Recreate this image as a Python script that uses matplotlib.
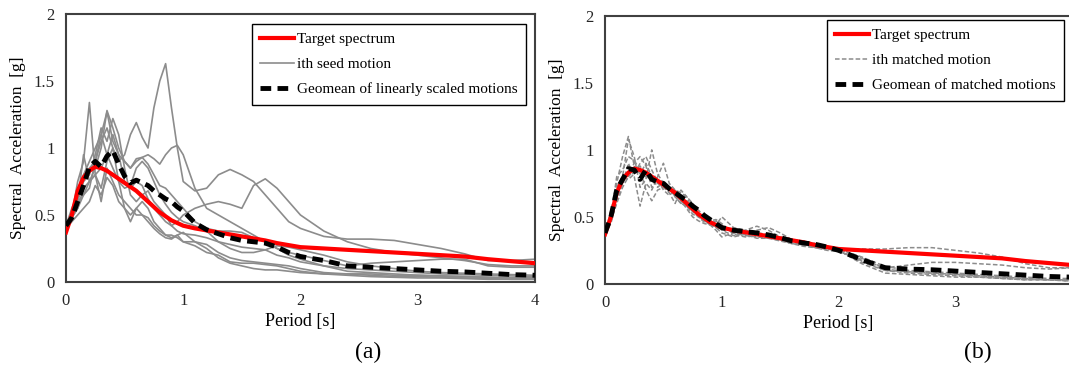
import matplotlib
matplotlib.use("Agg")
import matplotlib.pyplot as plt

plt.rcParams['font.family'] = ['Liberation Serif', 'DejaVu Serif']

# periods [s]
T = [0, .05, .1, .15, .2, .25, .3, .35, .4, .45, .5, .55, .6, .65, .7, .75, .8, .85, .9, .95,
     1.0, 1.1, 1.2, 1.3, 1.4, 1.5, 1.6, 1.7, 1.8, 1.9, 2.0, 2.2, 2.4, 2.6, 2.8, 3.0, 3.2, 3.4, 3.6, 3.8, 4.0]

target = [0.37, 0.5, 0.68, 0.78, 0.83, 0.86, 0.85, 0.83, 0.8, 0.77, 0.74, 0.71, 0.68, 0.64, 0.6, 0.56, 0.52, 0.49, 0.46, 0.44,
          0.42, 0.40, 0.385, 0.37, 0.355, 0.34, 0.325, 0.31, 0.29, 0.275, 0.26, 0.25, 0.24, 0.23, 0.22, 0.21, 0.20, 0.19, 0.17, 0.155, 0.14]

# (a) seed motions
seed_a = [0.4, 0.5, 0.65, 0.8, 0.85, 0.9, 1.05, 1.15, 1.0, 0.9, 0.95, 1.1, 1.19, 1.08, 1.0, 1.3, 1.5, 1.63, 1.3, 1.0,
          0.75, 0.68, 0.7, 0.8, 0.84, 0.8, 0.75, 0.65, 0.55, 0.45, 0.4, 0.34, 0.32, 0.32, 0.31, 0.28, 0.25, 0.21, 0.16, 0.16, 0.17]
seed_b = [0.4, 0.5, 0.6, 0.65, 0.7, 0.9, 1.1, 1.27, 1.05, 0.95, 0.9, 0.85, 0.9, 0.93, 0.95, 0.92, 0.88, 0.95, 1.0, 1.02,
          0.95, 0.7, 0.55, 0.5, 0.45, 0.4, 0.35, 0.3, 0.25, 0.2, 0.17, 0.12, 0.08, 0.07, 0.06, 0.05, 0.045, 0.04, 0.035, 0.03, 0.03]
seed_c = [0.4, 0.48, 0.55, 0.65, 0.75, 0.8, 0.85, 0.95, 1.1, 0.95, 0.75, 0.7, 0.75, 0.72, 0.62, 0.55, 0.5, 0.45, 0.42, 0.45,
          0.5, 0.55, 0.58, 0.6, 0.58, 0.55, 0.72, 0.77, 0.7, 0.6, 0.5, 0.38, 0.3, 0.25, 0.22, 0.2, 0.18, 0.16, 0.13, 0.12, 0.12]
seed_e = [0.4, 0.5, 0.75, 0.9, 1.34, 0.8, 0.7, 0.9, 1.0, 0.75, 0.55, 0.45, 0.55, 0.6, 0.55, 0.45, 0.4, 0.35, 0.33, 0.35,
          0.3, 0.27, 0.22, 0.2, 0.15, 0.14, 0.14, 0.13, 0.12, 0.1, 0.08, 0.06, 0.05, 0.04, 0.035, 0.03, 0.03, 0.025, 0.02, 0.02, 0.02]
seed_f = [0.42, 0.52, 0.6, 0.75, 0.8, 0.95, 1.15, 1.05, 1.22, 1.1, 0.85, 0.65, 0.6, 0.65, 0.68, 0.6, 0.55, 0.5, 0.42, 0.38,
          0.36, 0.35, 0.33, 0.3, 0.28, 0.26, 0.25, 0.24, 0.2, 0.18, 0.15, 0.12, 0.1, 0.09, 0.08, 0.07, 0.06, 0.055, 0.05, 0.045, 0.04]
seed_g = [0.38, 0.48, 0.55, 0.7, 0.75, 0.85, 1.0, 1.28, 1.15, 1.0, 0.9, 0.85, 0.92, 0.93, 0.88, 0.8, 0.72, 0.7, 0.65, 0.6,
          0.55, 0.45, 0.4, 0.38, 0.38, 0.37, 0.33, 0.3, 0.25, 0.22, 0.2, 0.16, 0.12, 0.14, 0.15, 0.16, 0.17, 0.17, 0.12, 0.11, 0.11]
seed_h = [0.4, 0.45, 0.5, 0.55, 0.6, 0.72, 0.65, 0.78, 0.72, 0.6, 0.55, 0.5, 0.55, 0.5, 0.45, 0.4, 0.36, 0.33, 0.32, 0.35,
          0.37, 0.3, 0.25, 0.18, 0.14, 0.12, 0.1, 0.09, 0.09, 0.08, 0.07, 0.06, 0.06, 0.05, 0.04, 0.04, 0.035, 0.03, 0.025, 0.02, 0.02]
seed_i = [0.42, 0.55, 0.65, 0.8, 0.9, 1.0, 1.1, 0.95, 0.85, 0.75, 0.7, 0.72, 0.85, 0.9, 0.85, 0.75, 0.65, 0.58, 0.52, 0.48,
          0.45, 0.42, 0.38, 0.3, 0.25, 0.22, 0.22, 0.24, 0.27, 0.26, 0.24, 0.2, 0.15, 0.12, 0.1, 0.08, 0.07, 0.065, 0.06, 0.055, 0.05]
seed_j = [0.4, 0.5, 0.6, 0.95, 0.75, 0.8, 0.6, 0.85, 0.75, 0.65, 0.6, 0.55, 0.5, 0.5, 0.48, 0.42, 0.38, 0.35, 0.35, 0.33,
          0.3, 0.3, 0.28, 0.22, 0.18, 0.16, 0.15, 0.14, 0.13, 0.12, 0.1, 0.07, 0.06, 0.06, 0.05, 0.05, 0.045, 0.04, 0.035, 0.03, 0.03]
seeds = [seed_a, seed_b, seed_c, seed_e, seed_f, seed_g, seed_h, seed_i, seed_j]

geo_scaled = [0.42, 0.48, 0.6, 0.72, 0.86, 0.9, 0.86, 0.94, 0.98, 0.88, 0.79, 0.74, 0.76, 0.74, 0.72, 0.68, 0.65, 0.62, 0.6, 0.56,
              0.53, 0.44, 0.39, 0.36, 0.33, 0.31, 0.3, 0.29, 0.26, 0.22, 0.19, 0.16, 0.12, 0.11, 0.10, 0.09, 0.08, 0.075, 0.065, 0.055, 0.05]

# (b) matched motions
m1 = [0.37, 0.52, 0.75, 0.95, 1.1, 0.88, 0.82, 0.9, 0.8, 0.72, 0.76, 0.7, 0.66, 0.62, 0.58, 0.54, 0.5, 0.46, 0.45, 0.47,
      0.43, 0.38, 0.37, 0.4, 0.42, 0.38, 0.33, 0.3, 0.28, 0.26, 0.25, 0.26, 0.26, 0.27, 0.27, 0.25, 0.23, 0.2, 0.15, 0.12, 0.12]
m2 = [0.37, 0.48, 0.65, 0.8, 1.08, 0.95, 0.72, 0.78, 1.0, 0.82, 0.75, 0.72, 0.65, 0.6, 0.62, 0.58, 0.5, 0.47, 0.44, 0.45,
      0.4, 0.36, 0.38, 0.38, 0.37, 0.34, 0.32, 0.3, 0.27, 0.25, 0.24, 0.18, 0.12, 0.14, 0.16, 0.16, 0.15, 0.14, 0.12, 0.11, 0.12]
m3 = [0.37, 0.45, 0.62, 0.75, 0.9, 0.8, 0.58, 0.75, 0.7, 0.8, 0.9, 0.75, 0.7, 0.68, 0.65, 0.6, 0.55, 0.5, 0.47, 0.48,
      0.45, 0.37, 0.35, 0.36, 0.36, 0.33, 0.31, 0.29, 0.27, 0.26, 0.25, 0.16, 0.1, 0.09, 0.08, 0.07, 0.06, 0.05, 0.04, 0.03, 0.03]
m4 = [0.37, 0.5, 0.8, 0.85, 0.95, 0.92, 0.85, 0.7, 0.62, 0.7, 0.72, 0.68, 0.6, 0.7, 0.65, 0.55, 0.5, 0.48, 0.45, 0.42,
      0.38, 0.35, 0.37, 0.34, 0.34, 0.32, 0.3, 0.28, 0.27, 0.26, 0.25, 0.15, 0.08, 0.07, 0.06, 0.05, 0.05, 0.04, 0.03, 0.03, 0.02]
m5 = [0.37, 0.55, 0.7, 0.75, 0.82, 0.9, 0.95, 0.88, 0.72, 0.78, 0.7, 0.66, 0.7, 0.65, 0.58, 0.52, 0.5, 0.52, 0.48, 0.44,
      0.5, 0.42, 0.4, 0.38, 0.35, 0.34, 0.32, 0.31, 0.3, 0.28, 0.26, 0.2, 0.13, 0.1, 0.09, 0.08, 0.07, 0.06, 0.05, 0.04, 0.04]
m6 = [0.37, 0.47, 0.6, 0.72, 0.8, 0.85, 0.88, 0.8, 0.78, 0.75, 0.72, 0.7, 0.68, 0.62, 0.56, 0.5, 0.47, 0.45, 0.44, 0.42,
      0.4, 0.4, 0.4, 0.43, 0.4, 0.35, 0.33, 0.32, 0.3, 0.28, 0.26, 0.19, 0.11, 0.09, 0.08, 0.07, 0.06, 0.05, 0.04, 0.03, 0.03]
m7 = [0.37, 0.52, 0.72, 0.8, 0.78, 0.82, 0.9, 0.95, 0.85, 0.76, 0.74, 0.72, 0.65, 0.6, 0.58, 0.55, 0.52, 0.48, 0.44, 0.4,
      0.35, 0.38, 0.36, 0.35, 0.34, 0.33, 0.3, 0.29, 0.28, 0.27, 0.25, 0.17, 0.1, 0.08, 0.07, 0.06, 0.05, 0.04, 0.03, 0.03, 0.02]
matched = [m1, m2, m3, m4, m5, m6, m7]

geo_matched = [0.38, 0.5, 0.7, 0.78, 0.86, 0.85, 0.78, 0.85, 0.78, 0.76, 0.75, 0.71, 0.68, 0.65, 0.62, 0.58, 0.55, 0.51, 0.48, 0.45,
               0.42, 0.40, 0.39, 0.38, 0.365, 0.345, 0.32, 0.305, 0.295, 0.275, 0.25, 0.18, 0.12, 0.11, 0.105, 0.095, 0.085, 0.075, 0.065, 0.055, 0.05]

fig = plt.figure(figsize=(10.69, 3.71), dpi=100)
ax1 = fig.add_axes([0.0617, 0.24, 0.4387, 0.722])
ax2 = fig.add_axes([0.566, 0.235, 0.4369, 0.722])

grey = '#8c8c8c'
for i, s in enumerate(seeds):
    ax1.plot(T, s, color=grey, lw=1.2, label='ith seed motion' if i == 0 else None, zorder=2)
ax1.plot(T, target, color='#ff0000', lw=3, label='Target spectrum', zorder=3)
ax1.plot(T, geo_scaled, color='black', lw=3.5, ls=(0, (2.2, 1.3)), label='Geomean of linearly scaled motions', zorder=4)

for i, s in enumerate(matched):
    ax2.plot(T, s, color=grey, lw=1.1, ls=(0, (3, 1.5)), label='ith matched motion' if i == 0 else None, zorder=2)
ax2.plot(T, target, color='#ff0000', lw=3, label='Target spectrum', zorder=3)
ax2.plot(T, geo_matched, color='black', lw=3.5, ls=(0, (2.2, 1.3)), label='Geomean of matched motions', zorder=4)

for ax, xt, leg_anchor in ((ax1, [0, 1, 2, 3, 4], (0.981, 0.963)), (ax2, [0, 1, 2, 3], (0.983, 0.985))):
    ax.set_xlim(0, 4)
    ax.set_ylim(0, 2)
    ax.set_xticks(xt)
    ax.set_yticks([0, 0.5, 1, 1.5, 2])
    ax.set_yticklabels(['0', '0.5', '1', '1.5', '2'])
    ax.tick_params(length=0, labelsize=12, pad=8, colors='#262626')
    for sp in ax.spines.values():
        sp.set_color('#404040')
        sp.set_linewidth(1.5)
    ax.set_xlabel('Period [s]', fontsize=13, labelpad=3)
    ax.set_ylabel('Spectral  Acceleration  [g]', fontsize=12.5, labelpad=6)
    handles, labels = ax.get_legend_handles_labels()
    order = [1, 0, 2]
    leg = ax.legend([handles[k] for k in order], [labels[k] for k in order],
                    loc='upper right', bbox_to_anchor=leg_anchor, borderaxespad=0, fontsize=11,
                    fancybox=False, edgecolor='black', framealpha=1,
                    handlelength=2.2, handletextpad=0.2, borderpad=0.55, labelspacing=0.75)
    leg.get_frame().set_linewidth(1.0)

fig.text(368 / 1069, 1 - 352 / 371, '(a)', fontsize=17, ha='center', va='center')
fig.text(978 / 1069, 1 - 352 / 371, '(b)', fontsize=17, ha='center', va='center')

fig.savefig('out.png', dpi=100)
